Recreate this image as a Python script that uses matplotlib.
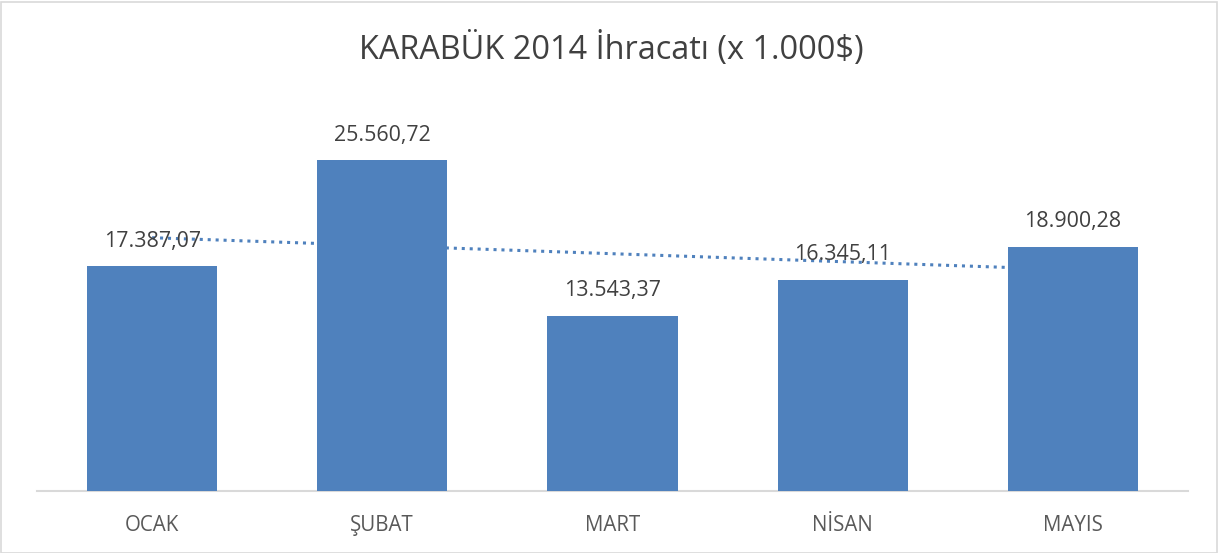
import numpy as np
import matplotlib
matplotlib.use("Agg")
import matplotlib.pyplot as plt
from matplotlib.patches import Rectangle

categories = ["OCAK", "ŞUBAT", "MART", "NİSAN", "MAYIS"]
values = [17387.07, 25560.72, 13543.37, 16345.11, 18900.28]
labels = ["17.387,07", "25.560,72", "13.543,37", "16.345,11", "18.900,28"]
title = "KARABÜK 2014 İhracatı (x 1.000$)"

plt.rcParams['font.family'] = ['Open Sans', 'DejaVu Sans']

W, H = 1218, 553
fig = plt.figure(figsize=(W / 100, H / 100), dpi=100)
ax = fig.add_axes([37 / W, 1 - 491 / H, (1188 - 37) / W, (491 - 103) / H])

bar_color = "#4F81BD"
x = np.arange(len(categories))
bars = ax.bar(x, values, width=0.565, color=bar_color, zorder=3)

# linear trendline
coef = np.polyfit(x, values, 1)
xt = np.array([x[0], x[-1]])
ax.plot(xt, np.polyval(coef, xt), linestyle=(0, (1, 1.6)), color=bar_color,
        linewidth=2.2, zorder=2)

for xi, v, lab in zip(x, values, labels):
    ax.annotate(lab, (xi, v), xytext=(0, 25), textcoords="offset pixels",
                ha="center", va="center", fontsize=15.4, color="#404040", zorder=4)

ax.set_xlim(-0.5, len(categories) - 0.5)
ax.set_ylim(0, 30000)
ax.set_xticks(x)
ax.set_xticklabels(categories, fontsize=14.8, color="#595959")
ax.tick_params(axis="x", length=0, pad=17)
ax.set_yticks([])
for s in ["top", "right", "left"]:
    ax.spines[s].set_visible(False)
ax.spines["bottom"].set_color("#D9D9D9")
ax.spines["bottom"].set_linewidth(1.5)

fig.text(611 / W, 1 - 50 / H, title, ha="center", va="center", fontsize=23.4,
         color="#404040")

fig.patches.append(Rectangle((0.5 / W, 0.5 / H), (W - 2) / W, (H - 2) / H,
                             transform=fig.transFigure, fill=False,
                             edgecolor="#D9D9D9", linewidth=1.2))

fig.savefig("out.png", dpi=100)
